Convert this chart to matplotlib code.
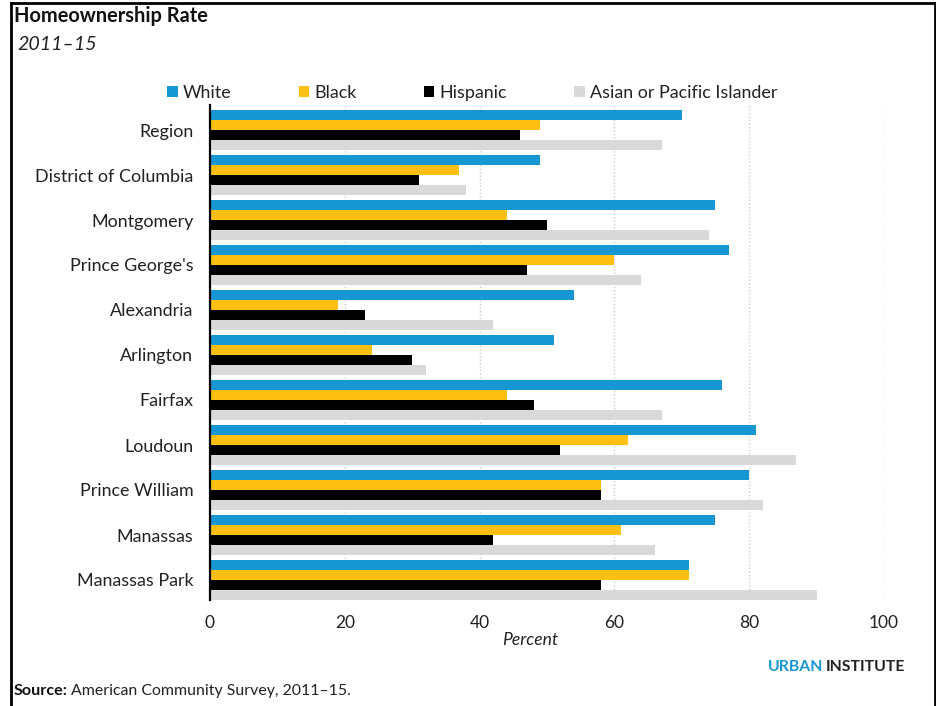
import matplotlib
matplotlib.use("Agg")
import matplotlib.pyplot as plt
from matplotlib.patches import Patch
from matplotlib.lines import Line2D
import numpy as np

plt.rcParams["font.family"] = ["Lato", "DejaVu Sans"]

# Homeownership rates by jurisdiction and race/ethnicity, 2011-15 (percent)
places = ["Region", "District of Columbia", "Montgomery", "Prince George's",
          "Alexandria", "Arlington", "Fairfax", "Loudoun", "Prince William",
          "Manassas", "Manassas Park"]
white = [70, 49, 75, 77, 54, 51, 76, 81, 80, 75, 71]
black = [49, 37, 44, 60, 19, 24, 44, 62, 58, 61, 71]
hispanic = [46, 31, 50, 47, 23, 30, 48, 52, 58, 42, 58]
asian = [67, 38, 74, 64, 42, 32, 67, 87, 82, 66, 90]
series_names = ["White", "Black", "Hispanic", "Asian or Pacific Islander"]
x_ticks = [0, 20, 40, 60, 80, 100]

colors = ["#1696d2", "#fdbf11", "#000000", "#d9d9d9"]

W, H = 937, 706
fig = plt.figure(figsize=(W / 100, H / 100), dpi=100)

def fx(px):
    return px / W

def fy(py):
    return 1 - py / H

ax = fig.add_axes([fx(210), fy(600), fx(884) - fx(210), fy(105) - fy(600)])

pos = np.arange(len(places))
bh = 10 / 45
for k, (vals, c) in enumerate(zip([white, black, hispanic, asian], colors)):
    ax.barh(pos + (k - 1.5) * bh, vals, height=bh, color=c, edgecolor="none",
            zorder=3, label=series_names[k])

ax.set_xlim(0, 100)
ax.set_ylim(len(places) - 1 + 20 / 45, -25 / 45)
ax.set_xticks(x_ticks)
ax.set_xticklabels([str(t) for t in x_ticks])
ax.set_yticks(pos)
ax.set_yticklabels(places)
ax.tick_params(axis="y", length=0, pad=12, labelsize=12.9, colors="#222222")
ax.tick_params(axis="x", length=0, pad=11, labelsize=12.5, colors="#222222")
ax.xaxis.grid(True, color="#cccccc", linestyle=(0, (1, 1.5)), linewidth=1, zorder=0)
for s in ["top", "right", "bottom"]:
    ax.spines[s].set_visible(False)
ax.spines["left"].set_linewidth(1.6)
ax.spines["left"].set_color("#000000")
ax.spines["left"].set_zorder(4)

ax.set_xlabel("Percent", fontstyle="italic", fontsize=12.6, color="#222222")
ax.xaxis.set_label_coords((530 - 210) / (884 - 210), -0.064)

handles = [Patch(facecolor=c, edgecolor="none") for c in colors]
fig.legend(handles, series_names, loc="center left", ncol=4, frameon=False,
           bbox_to_anchor=(fx(167), fy(93)), fontsize=12.9, handlelength=0.6,
           handleheight=0.6, handletextpad=0.3, columnspacing=3.72,
           borderpad=0, borderaxespad=0, labelcolor="#222222")

# Header, logo and source notes
fig.text(fx(14), fy(16), "Homeownership Rate", fontsize=14.4, fontweight="bold",
         va="center", ha="left", color="#111111")
fig.text(fx(17), fy(44), "2011\u201315", fontsize=14.1, fontstyle="italic",
         va="center", ha="left", color="#222222")
fig.text(fx(905), fy(667), "INSTITUTE", fontsize=11.3, fontweight="bold",
         va="center", ha="right", color="#222222")
fig.text(fx(823), fy(667), "URBAN", fontsize=11.3, fontweight="bold",
         va="center", ha="right", color="#1696d2")
fig.text(fx(14), fy(691), "Source:", fontsize=11.6, fontweight="bold",
         va="center", ha="left", color="#111111")
fig.text(fx(71), fy(691), "American Community Survey, 2011\u201315.", fontsize=11.4,
         va="center", ha="left", color="#222222")

# Frame around the chart
frame_kw = dict(color="#000000", linewidth=2, transform=fig.transFigure)
fig.add_artist(Line2D([fx(11), fx(11)], [0, fy(3)], **frame_kw))
fig.add_artist(Line2D([fx(11), fx(935)], [fy(3), fy(3)], **frame_kw))
fig.add_artist(Line2D([fx(935), fx(935)], [0, fy(3)], **frame_kw))

fig.savefig("out.png", dpi=100)
